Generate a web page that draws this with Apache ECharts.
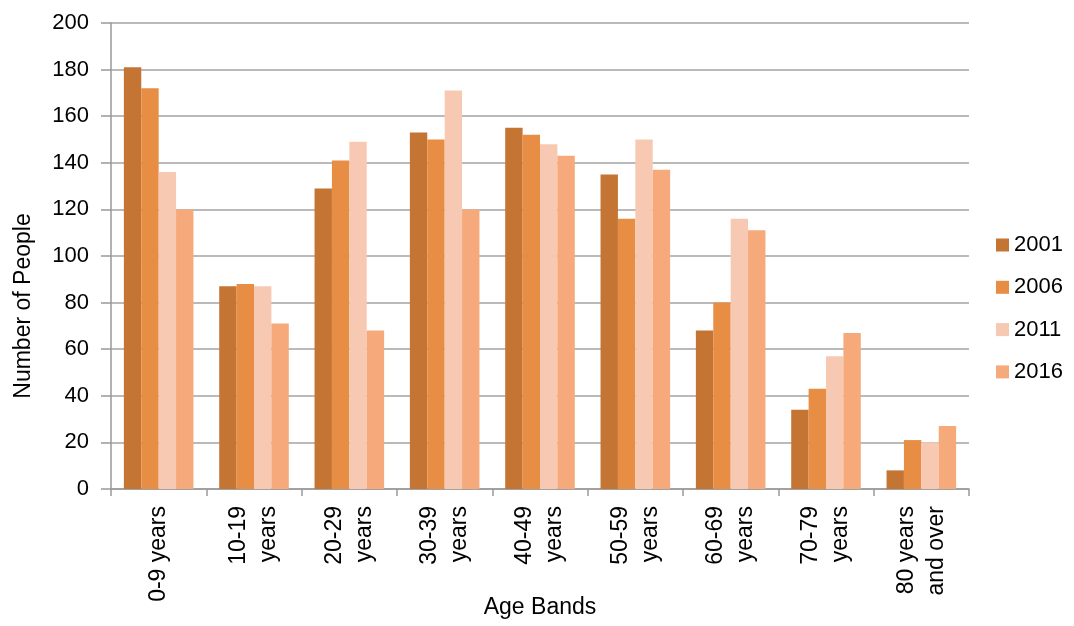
<!DOCTYPE html>
<html>
<head>
<meta charset="utf-8">
<script src="https://cdn.jsdelivr.net/npm/echarts@6/dist/echarts.min.js"></script>
<style>html,body{margin:0;padding:0;background:#fff}#c{width:1074px;height:626px}</style>
</head>
<body>
<div id="c"></div>
<script>
var categories = ['0-9 years', '10-19\nyears', '20-29\nyears', '30-39\nyears', '40-49\nyears', '50-59\nyears', '60-69\nyears', '70-79\nyears', '80 years\nand over'];
var years = ['2001', '2006', '2011', '2016'];
var s2001 = [181, 87, 129, 153, 155, 135, 68, 34, 8];
var s2006 = [172, 88, 141, 150, 152, 116, 80, 43, 21];
var s2011 = [136, 87, 149, 171, 148, 150, 116, 57, 20];
var s2016 = [120, 71, 68, 120, 143, 137, 111, 67, 27];
var yTicks = [0, 20, 40, 60, 80, 100, 120, 140, 160, 180, 200];

var colors = ['#C47534', '#E88D44', '#F8C9B2', '#F6AA7B'];
var seriesData = [s2001, s2006, s2011, s2016];
var font = 'Liberation Sans, Arial, sans-serif';

var chart = echarts.init(document.getElementById('c'), null, {renderer: 'canvas'});
chart.setOption({
  animation: false,
  color: colors,
  grid: {left: 111, right: 105, top: 23, bottom: 137, outerBoundsMode: 'none', containLabel: false},
  legend: {
    orient: 'vertical',
    left: 996,
    top: 234,
    padding: 0,
    itemWidth: 13,
    itemHeight: 13,
    itemGap: 20.3,
    icon: 'rect',
    textStyle: {fontFamily: font, fontSize: 22, color: '#000'},
    data: years
  },
  xAxis: {
    type: 'category',
    data: categories,
    name: 'Age Bands',
    nameLocation: 'middle',
    nameGap: 107,
    nameMoveOverlap: false,
    nameTextStyle: {fontFamily: font, fontSize: 23, color: '#000'},
    axisLine: {lineStyle: {color: '#999', width: 1.5}},
    axisTick: {show: true, length: 7, lineStyle: {color: '#999', width: 1.5}},
    axisLabel: {
      rotate: 90,
      interval: 0,
      margin: 17,
      fontFamily: font,
      fontSize: 23,
      lineHeight: 30,
      color: '#000'
    }
  },
  yAxis: {
    type: 'value',
    min: yTicks[0],
    max: yTicks[yTicks.length - 1],
    interval: 20,
    name: 'Number of People',
    nameLocation: 'middle',
    nameRotate: 90,
    nameGap: 76,
    nameMoveOverlap: false,
    nameTextStyle: {fontFamily: font, fontSize: 23, color: '#000', padding: [0, 100, 0, 0]},
    axisLine: {show: true, lineStyle: {color: '#999', width: 1.5}},
    axisTick: {show: true, length: 10, lineStyle: {color: '#999', width: 1.5}},
    axisLabel: {margin: 22, fontFamily: font, fontSize: 22, color: '#000'},
    splitLine: {lineStyle: {color: '#A3A3A3', width: 1.5}}
  },
  series: years.map(function (y, i) {
    return {
      name: y,
      type: 'bar',
      data: seriesData[i],
      barGap: '0%',
      barCategoryGap: '27%',
      itemStyle: {color: colors[i]}
    };
  })
});
</script>
</body>
</html>
